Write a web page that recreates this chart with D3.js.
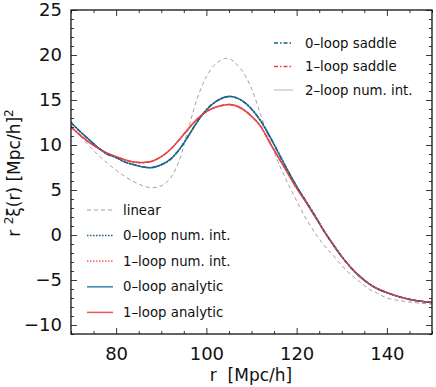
<!DOCTYPE html>
<html>
<head>
<meta charset="utf-8">
<script src="https://cdn.jsdelivr.net/npm/d3@7"></script>
<style>
  html, body { margin: 0; padding: 0; background: #fff; }
  svg { display: block; }
  text { font-family: "DejaVu Sans", sans-serif; fill: #111; }
</style>
</head>
<body>
<div id="chart"></div>
<script>
// ---- data ----
const rValues = [70,72,74,76,78,80,82,84,86,88,90,92,94,96,98,100,102,104,105,106,108,110,112,114,116,118,120,122,124,126,128,130,132,134,136,138,140,143,146,150];
const linearXi = [12.2,11.0,9.9,8.9,8.0,7.2,6.5,5.9,5.45,5.25,5.45,6.3,8.3,11.8,15.2,17.6,19.0,19.6,19.6,19.3,18.2,16.3,13.4,10.6,8.0,5.8,3.8,1.9,0.3,-1.1,-2.2,-3.4,-4.4,-5.2,-6.0,-6.5,-7.0,-7.3,-7.5,-7.7];
const loop0Xi = [12.5,11.5,10.6,9.7,9.0,8.6,8.1,7.8,7.55,7.5,7.8,8.4,9.5,11.0,12.6,13.9,14.8,15.3,15.4,15.35,14.9,14.0,12.7,11.0,9.1,7.2,5.4,3.8,2.2,0.5,-1.0,-2.4,-3.6,-4.6,-5.4,-6.0,-6.4,-6.9,-7.25,-7.5];
const loop1Xi = [12.0,11.1,10.3,9.65,9.1,8.7,8.35,8.1,8.05,8.2,8.7,9.5,10.6,11.8,12.9,13.7,14.2,14.45,14.5,14.45,14.0,13.2,12.1,10.3,8.6,6.9,5.2,3.7,2.1,0.5,-1.0,-2.4,-3.6,-4.6,-5.4,-6.0,-6.4,-6.9,-7.25,-7.5];
const loop2Xi = [12.0,11.1,10.3,9.65,9.1,8.7,8.35,8.1,8.05,8.2,8.7,9.5,10.6,11.8,12.9,13.7,14.2,14.45,14.5,14.45,14.0,13.2,12.1,10.3,8.6,6.9,5.2,3.7,2.1,0.5,-1.0,-2.4,-3.6,-4.6,-5.4,-6.0,-6.4,-6.9,-7.25,-7.5];
const xTicks = [80,100,120,140];
const yTicks = [-10,-5,0,5,10,15,20,25];
const legendTop = ["0–loop saddle","1–loop saddle","2–loop num. int."];
const legendBottom = ["linear","0–loop num. int.","1–loop num. int.","0–loop analytic","1–loop analytic"];

// ---- styles ----
const BLUE = "#3a81ad", BLUE_D = "#1d5f86", RED = "#e8585b", RED_D = "#f23d3d";
const styles = {
  "2–loop num. int.": {data: loop2Xi, color: "#cacaca", width: 1.4, dash: null},
  "linear":           {data: linearXi, color: "#8a8a8a", width: 0.8, dash: "4,3"},
  "0–loop analytic":  {data: loop0Xi, color: BLUE, width: 1.5, dash: null},
  "1–loop analytic":  {data: loop1Xi, color: RED, width: 1.5, dash: null},
  "0–loop num. int.": {data: loop0Xi, color: BLUE_D, width: 1.5, dash: "1.5,1.5"},
  "1–loop num. int.": {data: loop1Xi, color: RED_D, width: 1.3, dash: "1.5,1.5"},
  "0–loop saddle":    {data: loop0Xi, color: BLUE_D, width: 1.5, dash: "4,2,1.5,2"},
  "1–loop saddle":    {data: loop1Xi, color: RED_D, width: 1.3, dash: "4,2,1.5,2"}
};
const drawOrder = ["2–loop num. int.","linear","0–loop analytic","1–loop analytic","0–loop num. int.","1–loop num. int.","0–loop saddle","1–loop saddle"];

const W = 436, H = 387;
const margin = {left: 71, right: 4, top: 10, bottom: 53};
const iw = W - margin.left - margin.right, ih = H - margin.top - margin.bottom;

const svg = d3.select("#chart").append("svg").attr("width", W).attr("height", H);
const g = svg.append("g").attr("transform", `translate(${margin.left},${margin.top})`);

const x = d3.scaleLinear().domain([70,150]).range([0, iw]);
const y = d3.scaleLinear().domain([-11,25]).range([ih, 0]);

svg.append("defs").append("clipPath").attr("id","clip")
  .append("rect").attr("width", iw).attr("height", ih);

const line = d3.line().x(d => x(d[0])).y(d => y(d[1])).curve(d3.curveCatmullRom.alpha(0.5));
const plot = g.append("g").attr("clip-path","url(#clip)");
drawOrder.forEach(name => {
  const s = styles[name];
  plot.append("path")
    .datum(rValues.map((r,i) => [r, s.data[i]]))
    .attr("d", line)
    .attr("fill","none")
    .attr("stroke", s.color)
    .attr("stroke-width", s.width)
    .attr("stroke-dasharray", s.dash);
});

// ---- axes with inward ticks on all sides ----
function styleAxis(sel) {
  sel.select(".domain").remove();
  sel.selectAll("line").attr("stroke","#222").attr("stroke-width",0.9);
}
const xMinor = d3.range(70,151,5).filter(v => !xTicks.includes(v));
const yMinor = d3.range(-11,26,1).filter(v => !yTicks.includes(v));

const xb = g.append("g").attr("transform",`translate(0,${ih})`)
  .call(d3.axisBottom(x).tickValues(xTicks).tickSizeInner(-6).tickSizeOuter(0).tickPadding(13).tickFormat(d3.format("d")));
styleAxis(xb);
xb.selectAll("text").attr("font-size","18px").attr("dy","0.71em").attr("fill","#111");
g.append("g").attr("transform",`translate(0,${ih})`)
  .call(d3.axisBottom(x).tickValues(xMinor).tickSizeInner(-3).tickSizeOuter(0).tickFormat(""))
  .call(styleAxis);
g.append("g").call(d3.axisTop(x).tickValues(xTicks).tickSizeInner(-6).tickSizeOuter(0).tickFormat("")).call(styleAxis);
g.append("g").call(d3.axisTop(x).tickValues(xMinor).tickSizeInner(-3).tickSizeOuter(0).tickFormat("")).call(styleAxis);

const yl = g.append("g")
  .call(d3.axisLeft(y).tickValues(yTicks).tickSizeInner(-6).tickSizeOuter(0).tickPadding(9).tickFormat(d => d < 0 ? "−" + Math.abs(d) : d));
styleAxis(yl);
yl.selectAll("text").attr("font-size","18px").attr("fill","#111");
g.append("g").call(d3.axisLeft(y).tickValues(yMinor).tickSizeInner(-3).tickSizeOuter(0).tickFormat("")).call(styleAxis);
g.append("g").attr("transform",`translate(${iw},0)`)
  .call(d3.axisRight(y).tickValues(yTicks).tickSizeInner(-6).tickSizeOuter(0).tickFormat("")).call(styleAxis);
g.append("g").attr("transform",`translate(${iw},0)`)
  .call(d3.axisRight(y).tickValues(yMinor).tickSizeInner(-3).tickSizeOuter(0).tickFormat("")).call(styleAxis);

g.append("rect").attr("width", iw).attr("height", ih)
  .attr("fill","none").attr("stroke","#111").attr("stroke-width",1.3);

// ---- axis titles ----
const xt = svg.append("text").attr("x", 251).attr("y", 381).attr("text-anchor","middle")
  .attr("font-size","17px").style("white-space","pre");
xt.text("r  [Mpc/h]");

const yt = svg.append("text").attr("transform","translate(20,173) rotate(-90)")
  .attr("text-anchor","middle").attr("font-size","17px");
yt.append("tspan").text("r ");
yt.append("tspan").attr("font-size","12px").attr("dy","-7").text("2");
yt.append("tspan").attr("dy","7").text("ξ(r) [Mpc/h]");
yt.append("tspan").attr("font-size","12px").attr("dy","-7").text("2");

// ---- legends ----
function legend(names, x0, y0, step, lineLen, gap) {
  names.forEach((name, i) => {
    const s = styles[name];
    const yy = y0 + i * step;
    svg.append("line").attr("x1", x0).attr("x2", x0 + lineLen).attr("y1", yy).attr("y2", yy)
      .attr("stroke", s.color).attr("stroke-width", s.width).attr("stroke-dasharray", s.dash);
    svg.append("text").attr("x", x0 + lineLen + gap).attr("y", yy).attr("dy","0.35em")
      .attr("font-size","13.3px").text(name);
  });
}
legend(legendTop, 274, 43, 23.5, 19, 12);
legend(legendBottom, 87, 210, 25.6, 26, 10);
</script>
</body>
</html>
